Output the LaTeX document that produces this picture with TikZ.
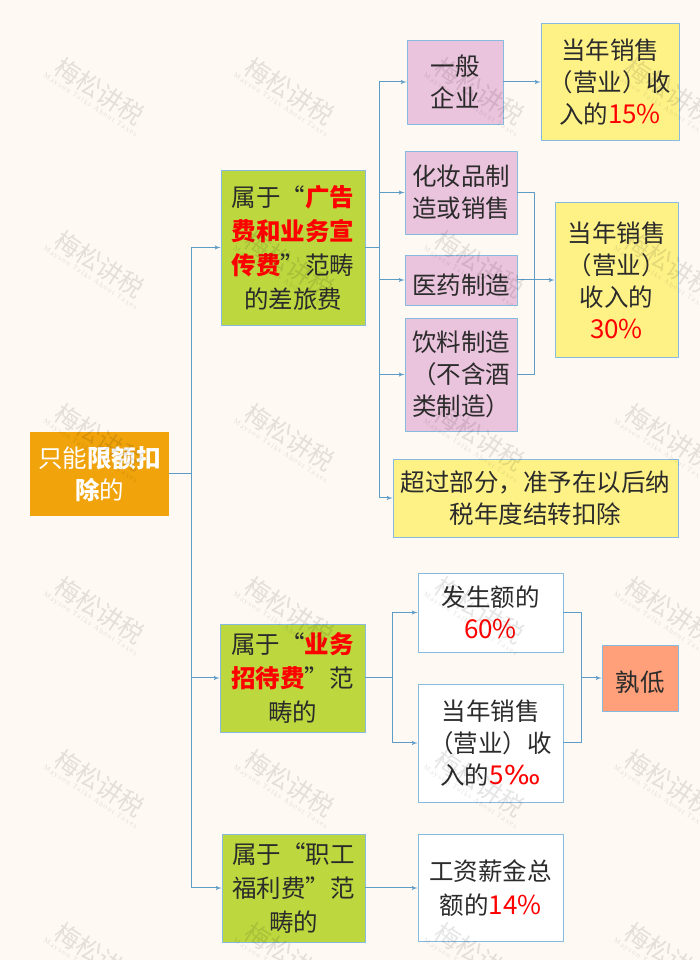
\documentclass[tikz,border=0pt]{standalone}
\usepackage{fontspec}
\setmainfont{Noto Sans CJK SC}
\newfontfamily\markfont{Liberation Serif}
\newfontfamily\permfont{DejaVu Sans}
\usepackage{tikz}
\usetikzlibrary{shapes,arrows,backgrounds,positioning,fit,calc}
\definecolor{pagecol}{HTML}{FEF9F2}
\definecolor{linecol}{HTML}{5E9CC8}
\definecolor{edgecol}{HTML}{86BBDF}
\definecolor{textcol}{HTML}{2B2B2B}
\definecolor{keyred}{HTML}{FF0000}
\definecolor{rootcol}{HTML}{F0A30A}
\definecolor{greencol}{HTML}{BDD73F}
\definecolor{pinkcol}{HTML}{EAC3DC}
\definecolor{yellowcol}{HTML}{FEF287}
\definecolor{salmoncol}{HTML}{FFA07A}
\newcommand{\keyterm}[1]{\textcolor{keyred}{\textbf{#1}}}
\newcommand{\keyval}[1]{\textcolor{keyred}{\fontsize{26bp}{\baselineskip}\selectfont #1}}
\tikzset{
  box/.style={draw=edgecol,line width=.9bp,inner sep=0pt,align=center,text=textcol,
    font=\fontsize{24.5bp}{32bp}\selectfont},
  lowtext/.style={execute at begin node=\rule{0pt}{30bp}},
  tallbox/.style={font=\fontsize{24.5bp}{34bp}\selectfont},
  rootbox/.style={box,lowtext,fill=rootcol,draw=rootcol,text=white},
  greenbox/.style={box,tallbox,fill=greencol},
  pinkbox/.style={box,lowtext,fill=pinkcol},
  yellowbox/.style={box,lowtext,fill=yellowcol},
  whitebox/.style={box,lowtext,fill=white},
  salmonbox/.style={box,lowtext,fill=salmoncol},
  link/.style={draw=linecol,line width=1bp},
  linkto/.style={link,->},
  markname/.style={text=black,opacity=.1,rotate=-33,align=center,inner sep=0pt},
}
\begin{document}
\begin{tikzpicture}[>=latex',line join=bevel,]
\fill [pagecol] (0bp,0bp) rectangle (700bp,960bp);
\useasboundingbox (0bp,0bp) rectangle (700bp,960bp);
% left column
\node [rootbox,minimum width=138bp,minimum height=83bp] (root) at (99.5bp,486bp) {只能\textbf{限额扣}\\\textbf{除}的};
\node [greenbox,lowtext,minimum width=144bp,minimum height=155bp] (ad) at (293bp,712.5bp) {属于“\keyterm{广告}\\\keyterm{费和业务宣}\\\keyterm{传费}”范畴\\的差旅费};
\node [greenbox,minimum width=145bp,minimum height=108bp] (ent) at (292.5bp,282bp) {属于“\keyterm{业务}\\\keyterm{招待费}”范\\畴的};
\node [greenbox,minimum width=143bp,minimum height=108bp] (wel) at (293.5bp,72bp) {属于“职工\\福利费”范\\畴的};
% advertising branch
\node [pinkbox,minimum width=96bp,minimum height=84bp] (gen) at (455bp,878bp) {一般\\企业};
\node [yellowbox,minimum width=138bp,minimum height=117bp] (gencap) at (610bp,878bp) {当年销售\\（营业）收\\入的\keyval{15\%}};
\node [pinkbox,minimum width=112bp,minimum height=83bp] (cos) at (461bp,767.5bp) {化妆品制\\造或销售};
\node [pinkbox,minimum width=112bp,minimum height=50bp] (med) at (461bp,680bp) {医药制造};
\node [pinkbox,minimum width=112bp,minimum height=113bp] (bev) at (461bp,585.5bp) {饮料制造\\（不含酒\\类制造）};
\node [yellowbox,minimum width=123bp,minimum height=155bp] (spcap) at (616.5bp,680bp) {当年销售\\（营业）\\收入的\\\keyval{30\%}};
\node [yellowbox,minimum width=285bp,minimum height=78bp] (carry) at (535.5bp,462bp) {超过部分，准予在以后纳\\税年度结转扣除};
% entertainment branch
\node [whitebox,minimum width=145bp,minimum height=79bp] (amt) at (490.5bp,347.5bp) {发生额的\\\keyval{60\%}};
\node [whitebox,minimum width=145bp,minimum height=118bp] (rev) at (490.5bp,217bp) {当年销售\\（营业）收\\入的\keyval{5{\permfont\scalebox{1.05}[1]{‰}}}};
\node [salmonbox,minimum width=76bp,minimum height=66bp] (low) at (640bp,282bp) {孰低};
% welfare branch
\node [box,tallbox,fill=white,minimum width=145bp,minimum height=107bp] (wage) at (490.5bp,72bp) {工资薪金总\\额的\keyval{14\%}};
% junctions
\coordinate (rootbus) at (191bp,486bp);
\coordinate (adbus) at (379bp,712.5bp);
\coordinate (spbus) at (534bp,680bp);
\coordinate (entbus) at (392bp,282bp);
\coordinate (lowbus) at (581bp,282bp);
% connectors
\draw [link] (root.east) -- (rootbus);
\foreach \n in {ad,ent,wel}
  \draw [linkto] (rootbus) |- (\n.west);
\draw [link] (ad.east) -- (adbus);
\foreach \n in {gen,cos,med,bev,carry}
  \draw [linkto] (adbus) |- (\n.west);
\draw [linkto] (gen.east) -- (gencap.west);
\foreach \n in {cos,med,bev}
  \draw [link] (\n.east) -| (spbus);
\draw [linkto] (spbus) -- (spcap.west);
\draw [link] (ent.east) -- (entbus);
\foreach \n in {amt,rev}
  \draw [linkto] (entbus) |- (\n.west);
\foreach \n in {amt,rev}
  \draw [link] (\n.east) -| (lowbus);
\draw [linkto] (lowbus) -- (low.west);
\draw [linkto] (wel.east) -- (wage.west);
% watermark
\foreach \cx in {97,287,477,667}
  \foreach \cy in {865,692,519,346,173,0}
    \node [markname] (mark\cx\cy) at (\cx bp,\cy bp) {\fontsize{25bp}{25bp}\selectfont 梅松讲税\\[-3bp]\fontsize{7.5bp}{8bp}\markfont M\,a\,y\,s\,o\,n\ \ T\,a\,l\,k\,s\ \ A\,b\,o\,u\,t\ \ T\,a\,x\,e\,s};
\end{tikzpicture}
\end{document}
